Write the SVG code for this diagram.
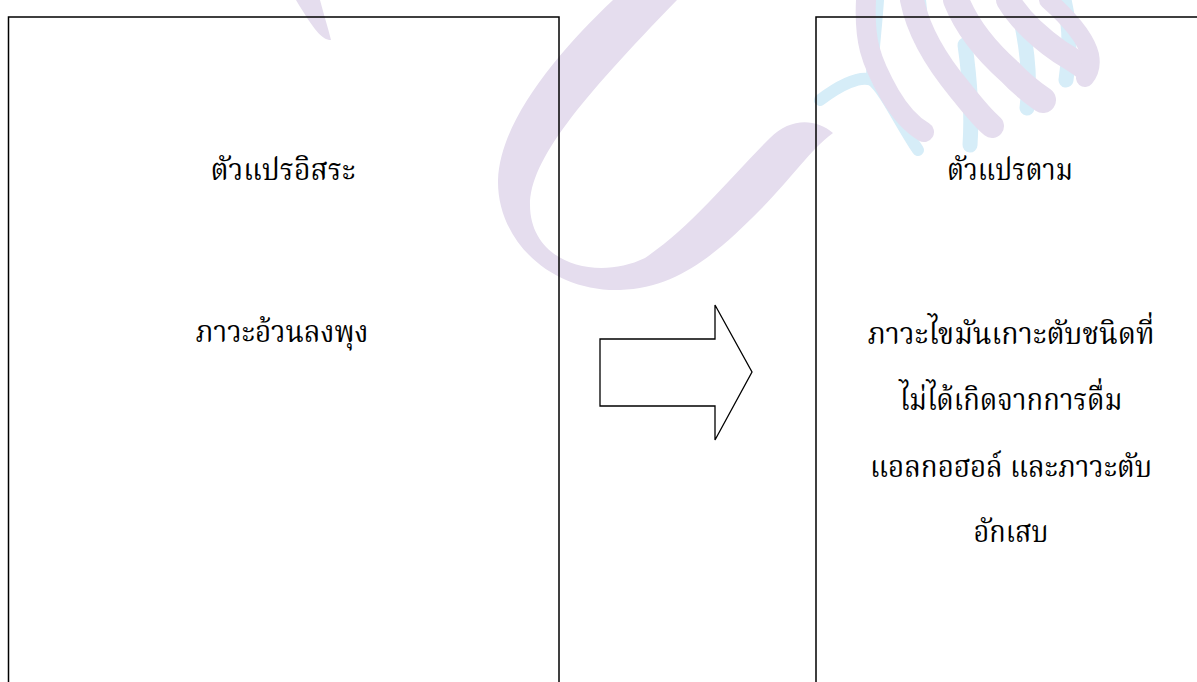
<svg xmlns="http://www.w3.org/2000/svg" width="1197" height="682" viewBox="0 0 1197 682">
<style>
.box{fill:none;stroke:#000;stroke-width:1.5}
.t{font-family:"Kinnari","Norasi","Noto Serif Thai","Liberation Serif",serif;font-size:30px;fill:#000;text-anchor:middle}
.wp{fill:#e5ddee}
.rp{fill:none;stroke:#e5ddee;stroke-linecap:round}
.rb{fill:none;stroke:#d6edf8;stroke-linecap:round}
</style>
<rect width="1197" height="682" fill="#fff"/>
<g id="watermark">
<path class="wp" d="M613,0 C560,50 500,120 498,180 C497,240 550,292 620,290 C680,288 720,250 760,210 C790,180 810,150 833,133 C815,118 790,118 770,138 C730,178 690,228 645,258 C595,282 530,262 530,205 C530,160 580,100 677,0 Z"/>
<path class="wp" d="M296,0 L320,0 C324,15 328,28 331,40 C322,40 314,30 296,0 Z"/>
<path class="rb" stroke-width="12" d="M820,100 C840,85 860,75 872,80 C885,90 898,120 918,150"/>
<path class="rb" stroke-width="12" d="M878,0 C876,30 872,60 872,80"/>
<path class="rb" stroke-width="12" d="M920,0 C922,15 922,30 920,40"/>
<path class="rb" stroke-width="15" d="M965,45 C970,80 972,115 970,145"/>
<path class="rb" stroke-width="15" d="M1022,25 C1028,55 1030,85 1027,108"/>
<path class="rb" stroke-width="15" d="M1064,0 C1070,25 1070,55 1066,80"/>
<path class="rp" stroke-width="20" d="M866,0 C864,40 870,60 890,95 C900,112 912,125 924,132"/>
<path class="rp" stroke-width="24" d="M912,0 C918,30 935,60 960,90 C972,105 982,118 992,126"/>
<path class="rp" stroke-width="26" d="M956,0 C966,25 985,50 1010,72 C1022,85 1033,93 1043,100"/>
<path class="rp" stroke-width="24" d="M1008,0 C1020,20 1040,38 1060,52 C1070,58 1078,63 1083,67"/>
<path class="rp" stroke-width="18" d="M1048,0 C1065,15 1085,35 1090,55 C1092,65 1090,72 1085,78"/>
</g>
<g id="node-independent">
<rect class="box" x="8.5" y="17" width="550.5" height="700"/>
<text class="t" x="283" y="180" textLength="145" lengthAdjust="spacingAndGlyphs">ตัวแปรอิสระ</text>
<text class="t" x="282" y="342" textLength="173" lengthAdjust="spacingAndGlyphs">ภาวะอ้วนลงพุง</text>
</g>
<g id="connectors">
<path d="M600,339 H715 V305 L752,372 L715,440 V406 H600 Z" fill="none" stroke="#000" stroke-width="1.3"/>
</g>
<g id="node-dependent">
<rect class="box" x="816" y="17" width="420" height="700"/>
<text class="t" x="1010" y="180" textLength="126" lengthAdjust="spacingAndGlyphs">ตัวแปรตาม</text>
<text class="t" x="1011" y="344" textLength="287" lengthAdjust="spacingAndGlyphs">ภาวะไขมันเกาะตับชนิดที่</text>
<text class="t" x="1011" y="410" textLength="223" lengthAdjust="spacingAndGlyphs">ไม่ได้เกิดจากการดื่ม</text>
<text class="t" x="1011" y="477" textLength="282" lengthAdjust="spacingAndGlyphs">แอลกอฮอล์ และภาวะตับ</text>
<text class="t" x="1011" y="542" textLength="75" lengthAdjust="spacingAndGlyphs">อักเสบ</text>
</g>
</svg>
